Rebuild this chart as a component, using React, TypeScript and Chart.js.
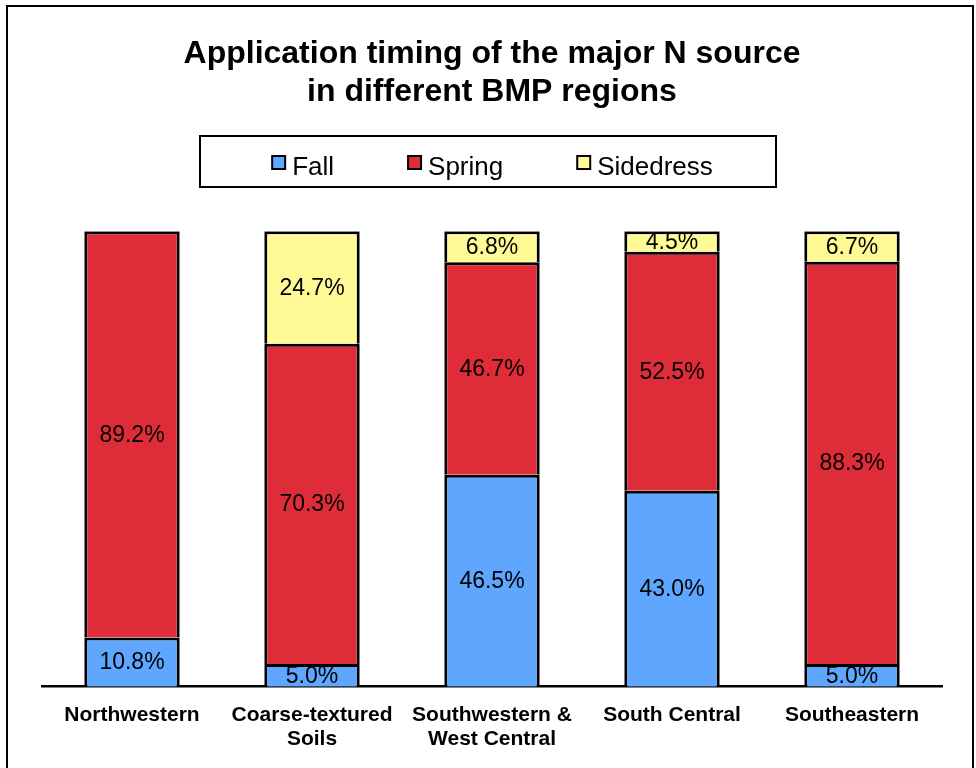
import React, { useEffect, useRef } from "react";
import { Chart, registerables } from "chart.js";

Chart.register(...registerables);

const categories: (string | string[])[] = [
  "Northwestern",
  ["Coarse-textured", "Soils"],
  ["Southwestern &", "West Central"],
  "South Central",
  "Southeastern",
];
const fallValues = [10.8, 5.0, 46.5, 43.0, 5.0];
const springValues = [89.2, 70.3, 46.7, 52.5, 88.3];
const sidedressValues = [0, 24.7, 6.8, 4.5, 6.7];
const seriesNames = ["Fall", "Spring", "Sidedress"];
const seriesColors = ["#5FA6FF", "#DE2C38", "#FFFA96"];
const titleLines = ["Application timing of the major N source", "in different BMP regions"];

const FONT = "'Liberation Sans', Arial, Helvetica, sans-serif";

const framePlugin = {
  id: "frame",
  afterDraw(chart: any) {
    const ctx = chart.ctx;
    ctx.save();
    ctx.strokeStyle = "#000";
    ctx.lineWidth = 2;
    ctx.strokeRect(7, 6, 966, 800);
    ctx.restore();
  },
};

const legendBoxPlugin = {
  id: "legendBox",
  afterDraw(chart: any) {
    const ctx = chart.ctx;
    ctx.save();
    ctx.strokeStyle = "#000";
    ctx.lineWidth = 2;
    ctx.strokeRect(200, 136, 576, 51);
    ctx.font = `26px ${FONT}`;
    const sq = 13;
    const gapBoxText = 6;
    const gapItems = 73;
    const datasets = chart.data.datasets;
    const widths = datasets.map((d: any) => sq + 2 + gapBoxText + ctx.measureText(d.label).width);
    const total = widths.reduce((a: number, b: number) => a + b, 0) + gapItems * (datasets.length - 1);
    let x = 492 - total / 2;
    const cy = 163;
    datasets.forEach((d: any, i: number) => {
      ctx.fillStyle = d.backgroundColor;
      ctx.fillRect(x + 1, cy - 7, sq, sq);
      ctx.strokeStyle = "#000";
      ctx.lineWidth = 2;
      ctx.strokeRect(x + 1, cy - 7, sq, sq);
      ctx.fillStyle = "#000";
      ctx.textBaseline = "alphabetic";
      ctx.textAlign = "left";
      ctx.fillText(d.label, x + sq + 2 + gapBoxText, 175);
      x += widths[i] + gapItems;
    });
    ctx.restore();
  },
};

const valueLabelPlugin = {
  id: "valueLabels",
  afterDatasetsDraw(chart: any) {
    const ctx = chart.ctx;
    ctx.save();
    ctx.font = `23px ${FONT}`;
    ctx.fillStyle = "#000";
    ctx.textAlign = "center";
    ctx.textBaseline = "middle";
    chart.data.datasets.forEach((ds: any, di: number) => {
      const meta = chart.getDatasetMeta(di);
      meta.data.forEach((bar: any, i: number) => {
        const v = ds.data[i];
        if (!v) return;
        const y = (bar.y + bar.base) / 2;
        ctx.fillText(v.toFixed(1) + "%", bar.x, y + 1);
      });
    });
    ctx.restore();
  },
};

export default function App() {
  const ref = useRef<HTMLCanvasElement | null>(null);
  useEffect(() => {
    if (!ref.current) return;
    Chart.defaults.font.family = FONT;
    const values = [fallValues, springValues, sidedressValues];
    const chart = new Chart(ref.current, {
      type: "bar",
      data: {
        labels: categories,
        datasets: values.map((vals, i) => ({
          label: seriesNames[i],
          data: vals,
          backgroundColor: seriesColors[i],
          borderColor: "#000",
          borderWidth: 3,
          borderSkipped: "start",
          barPercentage: 0.53,
          categoryPercentage: 1,
        })),
      },
      options: {
        responsive: false,
        animation: false,
        devicePixelRatio: 1,
        layout: { padding: { left: 42, right: 34, top: 0, bottom: 1 } },
        plugins: {
          legend: { display: false },
          tooltip: { enabled: false },
          title: {
            display: true,
            text: titleLines,
            color: "#000",
            font: { family: FONT, size: 32, weight: "bold", lineHeight: 1.19 },
            padding: { top: 35, bottom: 120 },
          },
        },
        scales: {
          x: {
            stacked: true,
            z: 1,
            grid: { display: false, drawTicks: false },
            border: { display: true, color: "#000", width: 2.5 },
            ticks: {
              color: "#000",
              padding: 16,
              maxRotation: 0,
              autoSkip: false,
              font: { family: FONT, size: 21, weight: "bold", lineHeight: 1.15 },
            },
          },
          y: {
            stacked: true,
            display: false,
            min: 0,
            max: 100,
          },
        },
      },
      plugins: [valueLabelPlugin, legendBoxPlugin, framePlugin],
    });
    return () => chart.destroy();
  }, []);
  return (
    <div style={{ position: "fixed", left: 0, top: 0, width: 976, height: 768, background: "#fff" }}>
      <canvas ref={ref} width={976} height={768} />
    </div>
  );
}
